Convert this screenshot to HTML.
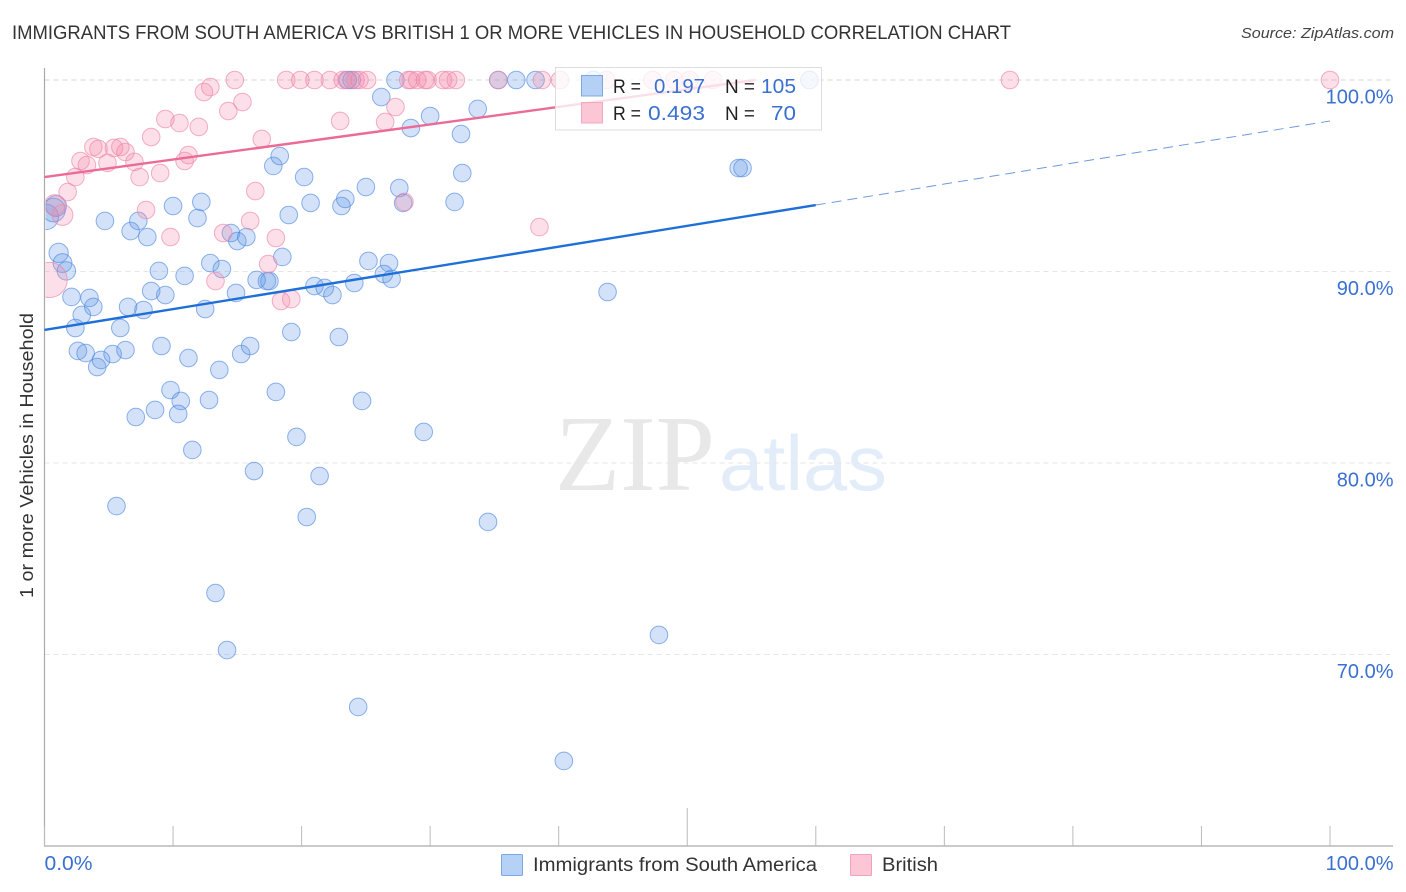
<!DOCTYPE html>
<html lang="en">
<head>
<meta charset="utf-8">
<title>Immigrants from South America vs British 1 or more Vehicles in Household Correlation Chart</title>
<style>
html,body{margin:0;padding:0;background:#fff;width:1406px;height:892px;overflow:hidden}
svg{display:block}
text{font-family:"Liberation Sans",sans-serif}
</style>
</head>
<body>
<svg id="chart" xmlns="http://www.w3.org/2000/svg" width="1406" height="892" viewBox="0 0 1406 892">
  <defs>
    <clipPath id="plot-clip"><rect x="45.5" y="60" width="1350" height="786"/></clipPath>
  </defs>
  <rect x="0" y="0" width="1406" height="892" fill="#fff"/>
  <text x="12" y="39" font-size="19" fill="#333" textLength="999" lengthAdjust="spacingAndGlyphs">IMMIGRANTS FROM SOUTH AMERICA VS BRITISH 1 OR MORE VEHICLES IN HOUSEHOLD CORRELATION CHART</text>
  <text x="1241" y="38" font-size="15" font-style="italic" fill="#444" textLength="153" lengthAdjust="spacingAndGlyphs">Source: ZipAtlas.com</text>
  <g>
    <text x="555" y="490" font-size="108" fill="#e8e8e8" textLength="160" lengthAdjust="spacingAndGlyphs" style="font-family:'Liberation Serif',serif">ZIP</text>
    <text x="719" y="490" font-size="78" fill="#e3edf9" textLength="168" lengthAdjust="spacingAndGlyphs">atlas</text>
  </g>
  <g id="grid"></g>
  <g id="axes"></g>
  <g id="blue-points" clip-path="url(#plot-clip)"></g>
  <g id="pink-points" clip-path="url(#plot-clip)"></g>
  <g id="trends"></g>
  <text transform="translate(33,598) rotate(-90)" font-size="18.5" fill="#333" textLength="285" lengthAdjust="spacingAndGlyphs">1 or more Vehicles in Household</text>
  <g>
    <rect x="555.5" y="67.5" width="266" height="62.5" fill="#fff" fill-opacity="0.78" stroke="#ddd" stroke-width="1"/>
    <rect x="581.5" y="75.5" width="21" height="20.5" fill="#a9c9f3" fill-opacity="0.85" stroke="#7ba8e4"/>
    <rect x="581.5" y="102.5" width="21" height="20.5" fill="#fbc0d2" fill-opacity="0.9" stroke="#f3a9c0"/>
    <text x="613" y="93" font-size="19" fill="#222" textLength="28" lengthAdjust="spacingAndGlyphs">R =</text>
    <text x="654" y="93" font-size="20.5" fill="#3a70d0" textLength="51" lengthAdjust="spacingAndGlyphs">0.197</text>
    <text x="725" y="93" font-size="19" fill="#222" textLength="30" lengthAdjust="spacingAndGlyphs">N =</text>
    <text x="761" y="93" font-size="20.5" fill="#3a70d0" textLength="35" lengthAdjust="spacingAndGlyphs">105</text>
    <text x="613" y="120" font-size="19" fill="#222" textLength="28" lengthAdjust="spacingAndGlyphs">R =</text>
    <text x="648" y="120" font-size="20.5" fill="#3a70d0" textLength="57" lengthAdjust="spacingAndGlyphs">0.493</text>
    <text x="725" y="120" font-size="19" fill="#222" textLength="30" lengthAdjust="spacingAndGlyphs">N =</text>
    <text x="771" y="120" font-size="20.5" fill="#3a70d0" textLength="25" lengthAdjust="spacingAndGlyphs">70</text>
  </g>
  <g>
    <rect x="501.5" y="854.5" width="21" height="21" rx="1" fill="#b5d1f5" stroke="#7ba8e4"/>
    <text x="533" y="871" font-size="19" fill="#333" textLength="284" lengthAdjust="spacingAndGlyphs">Immigrants from South America</text>
    <rect x="850.5" y="854.5" width="21" height="21" rx="1" fill="#fcc6d6" stroke="#f0a2bb"/>
    <text x="882" y="871" font-size="19" fill="#333" textLength="56" lengthAdjust="spacingAndGlyphs">British</text>
  </g>
</svg>
<script>
// Percent values
const blueX = [0.1,0.7,0.9,1.1,1.4,1.7,2.1,2.4,2.9,3.5,3.8,2.6,3.2,4.1,4.4,5.3,6.3,5.9,6.5,4.7,6.7,7.3,8.0,7.7,8.3,8.9,9.4,9.1,11.2,10.9,10.0,11.9,12.2,12.5,12.9,13.8,14.9,14.5,15.0,15.7,13.6,15.3,16.0,12.8,9.8,10.6,8.6,7.1,10.4,11.5,5.6,16.3,18.0,19.6,21.4,20.4,13.3,14.2,24.4,34.5,47.8,40.4,43.8,29.5,24.7,22.9,19.2,16.5,17.3,17.5,18.5,21.0,21.8,22.4,24.1,25.2,26.8,26.4,27.0,17.8,18.3,19.0,20.2,20.7,23.1,23.4,25.0,27.6,27.9,31.9,32.5,32.4,30.0,28.5,26.2,33.7,27.3,23.6,23.9,35.3,36.7,38.2,42.7,59.5,54.0,54.3];
const blueY = [92.85,93.21,93.42,90.97,90.44,90.03,88.67,87.05,87.73,88.62,88.15,85.85,85.74,85.01,85.38,85.69,85.90,87.05,88.15,92.64,92.11,92.64,91.80,87.99,88.98,90.03,88.77,86.11,85.48,89.77,93.42,92.79,93.63,88.04,90.44,90.13,88.88,92.01,91.59,91.80,84.86,85.69,86.11,83.29,83.81,83.24,82.77,82.40,82.56,80.68,77.75,79.58,83.71,81.36,79.32,77.18,73.21,70.23,67.26,76.92,71.02,64.44,88.93,81.62,83.24,86.58,86.84,89.56,89.50,89.50,90.76,89.24,89.14,88.77,89.40,90.55,90.44,89.87,89.61,95.51,96.03,92.95,94.93,93.58,93.42,93.79,94.41,94.36,93.58,93.63,95.14,97.18,98.12,97.49,99.11,98.49,100,100,100,100,100,100,100,100,95.40,95.40];
const blueWeights = {0:2.1,1:1.8,2:1.4,3:1.2,4:1.15,5:1.1};

const pinkX = [0.4,1.4,0.8,1.8,2.4,2.8,3.3,3.8,4.2,4.9,5.4,5.9,6.3,7.0,7.4,9.0,10.9,11.2,7.9,9.8,8.3,9.4,10.5,12.0,12.4,12.9,14.8,14.3,15.4,16.9,16.4,16.0,13.9,18.0,17.4,13.3,18.4,19.2,23.0,27.3,26.5,28.0,38.5,18.8,19.9,21.0,22.2,23.2,23.5,24.2,24.5,25.1,28.3,28.5,29.0,29.6,29.8,31.0,31.4,32.0,35.3,38.7,40.1,43.7,47.3,49.0,50.2,52.0,75.1,100];
const pinkY = [89.56,92.95,93.47,94.15,94.93,95.77,95.56,96.50,96.40,95.67,96.45,96.50,96.24,95.72,94.93,95.14,95.77,96.08,93.21,91.80,97.02,97.96,97.75,97.55,99.37,99.63,100,98.38,98.85,96.92,94.20,92.64,92.01,91.75,90.39,89.50,88.46,88.56,97.86,98.59,97.81,93.63,92.32,100,100,100,100,100,100,100,100,100,100,100,100,100,100,100,100,100,100,100,100,100,100,100,100,100,100,100];
const pinkWeights = {0:4,1:1.4,2:1.4};

const blueTrendX = [0,60];
const blueTrendY = [86.95,93.47];
const blueDashX = [60,100];
const blueDashY = [93.47,97.86];
const pinkTrendX = [0,55.3];
const pinkTrendY = [94.93,100];

const yTicks = [100,90,80,70];
const yTickLabels = ['100.0%','90.0%','80.0%','70.0%'];
const xTicks = [0,10,20,30,40,50,60,70,80,90,100];
const xEndLabels = ['0.0%','100.0%'];

const NS = 'http://www.w3.org/2000/svg';
function sx(v){ return 44.5 + v * 12.855; }
function sy(v){ return 80 + (100 - v) * 19.15; }
function make(tag, parent, attrs){
  const el = document.createElementNS(NS, tag);
  for (const k in attrs) el.setAttribute(k, attrs[k]);
  parent.appendChild(el);
  return el;
}

const grid = document.getElementById('grid');
yTicks.forEach(function(t, i){
  const g = make('line', grid, {x1:44.5, x2:1393, y1:sy(t), y2:sy(t), stroke: i === 0 ? '#d4d4d4' : '#e6e6e6', 'stroke-width':1, 'stroke-dasharray':'5 4'});
  
  
});

const axes = document.getElementById('axes');
const yAxis = make('line', axes, {x1:44.5, x2:44.5, y1:68, y2:846, stroke:'#aaa', 'stroke-width':1.2});


const xAxis = make('line', axes, {x1:44, x2:1393, y1:846, y2:846, stroke:'#aaa', 'stroke-width':1.2});


xTicks.forEach(function(t){
  const tick = make('line', axes, {x1:sx(t), x2:sx(t), y1: t === 50 ? 808 : 826, y2:846, stroke:'#bbb', 'stroke-width':1});
  
  
});
yTicks.forEach(function(t, i){
  const lab = make('text', axes, {x:1393.5, y:sy(t) + 23.5, 'font-size':20, fill:'#3a70d0', 'text-anchor':'end'});
  lab.textContent = yTickLabels[i];
  
  
});
const x0 = make('text', axes, {x:44.5, y:870, 'font-size':20, fill:'#3a70d0', textLength:48, lengthAdjust:'spacingAndGlyphs'});
x0.textContent = xEndLabels[0];


const x1 = make('text', axes, {x:1393.5, y:870, 'font-size':20, fill:'#3a70d0', 'text-anchor':'end'});
x1.textContent = xEndLabels[1];



const bluePts = document.getElementById('blue-points');
blueX.forEach(function(x, i){
  const w = blueWeights[i] || 1;
  const c = make('circle', bluePts, {cx:sx(x), cy:sy(blueY[i]), r:8.8 * Math.sqrt(w), fill:'#5b93e6', 'fill-opacity':0.27, stroke:'#4a86de', 'stroke-opacity':0.62, 'stroke-width':1});
  
  
});
const pinkPts = document.getElementById('pink-points');
pinkX.forEach(function(x, i){
  const w = pinkWeights[i] || 1;
  const c = make('circle', pinkPts, {cx:sx(x), cy:sy(pinkY[i]), r:8.8 * Math.sqrt(w), fill:'#f48cab', 'fill-opacity':0.28, stroke:'#ec86a7', 'stroke-opacity':0.65, 'stroke-width':1});
  
  
});

const trends = document.getElementById('trends');
const tb = make('line', trends, {x1:sx(blueTrendX[0]), y1:sy(blueTrendY[0]), x2:sx(blueTrendX[1]), y2:sy(blueTrendY[1]), stroke:'#1f6fd8', 'stroke-width':2.4});


const td = make('line', trends, {x1:sx(blueDashX[0]), y1:sy(blueDashY[0]), x2:sx(blueDashX[1]), y2:sy(blueDashY[1]), stroke:'#6f9bd8', 'stroke-width':1, 'stroke-dasharray':'10 6'});


const tp = make('line', trends, {x1:sx(pinkTrendX[0]), y1:sy(pinkTrendY[0]), x2:sx(pinkTrendX[1]), y2:sy(pinkTrendY[1]), stroke:'#ec6a96', 'stroke-width':2.4});


</script>
</body>
</html>
